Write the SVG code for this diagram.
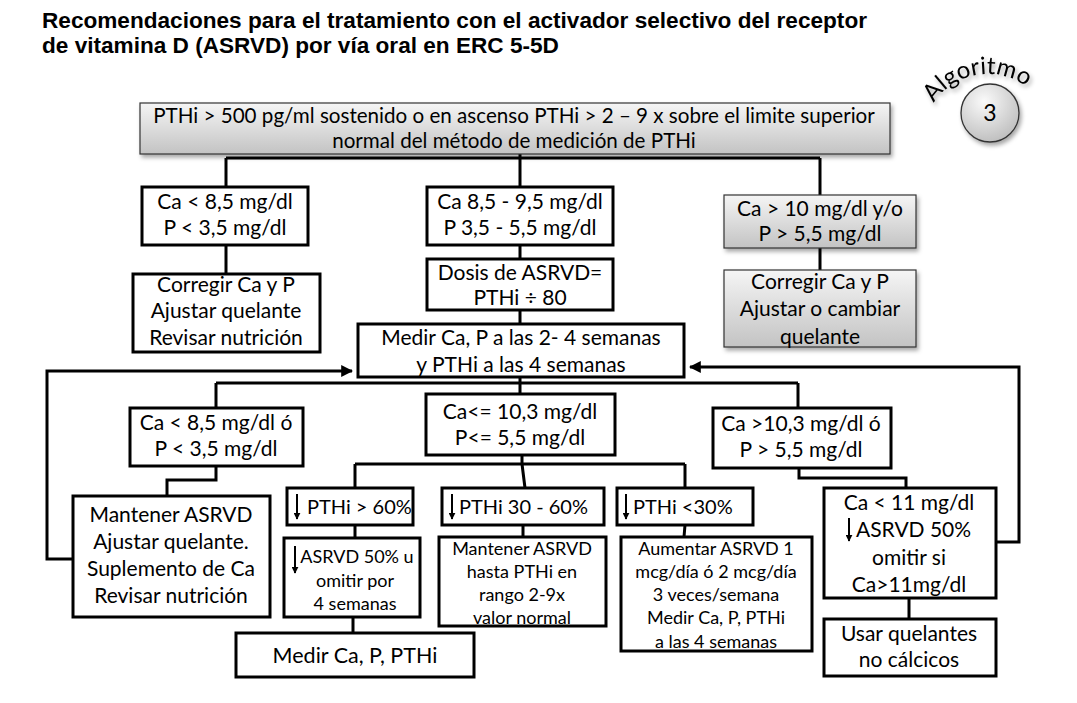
<svg xmlns="http://www.w3.org/2000/svg" width="1077" height="703" viewBox="0 0 1077 703">
<style>
.title{font-family:"Liberation Sans",Arial,sans-serif;font-weight:bold;font-size:22.6px;fill:#000}
.t{font-family:Lato,"Open Sans",sans-serif;font-size:21px;fill:#000;text-anchor:middle}
.ts{font-family:Lato,"Open Sans",sans-serif;font-size:18px;fill:#000;text-anchor:middle}
.tl{font-family:Lato,"Open Sans",sans-serif;font-size:20px;fill:#000}
.box{fill:#fff;stroke:#000;stroke-width:3}
.gbox{fill:url(#gg);stroke:#333;stroke-width:1.2;filter:url(#sh)}
.c{fill:none;stroke:#000;stroke-width:3}
.da{fill:none;stroke:#000;stroke-width:2}
</style>
<defs>
<linearGradient id="gg" x1="0" y1="0" x2="0" y2="1">
<stop offset="0" stop-color="#f5f5f5"/>
<stop offset="1" stop-color="#c3c3c3"/>
</linearGradient>
<radialGradient id="cg" cx="0.4" cy="0.3" r="0.8">
<stop offset="0" stop-color="#fafafa"/>
<stop offset="1" stop-color="#b8b8b8"/>
</radialGradient>
<filter id="sh" x="-10%" y="-10%" width="130%" height="140%">
<feDropShadow dx="2" dy="3" stdDeviation="2" flood-color="#000" flood-opacity="0.35"/>
</filter>
<marker id="ah" viewBox="0 0 10 10" refX="9" refY="5" markerWidth="4" markerHeight="4" orient="auto">
<path d="M0,0 L10,5 L0,10 z" fill="#000"/>
</marker>
<marker id="dh" viewBox="0 0 10 10" refX="9" refY="5" markerWidth="7" markerHeight="7" orient="auto" markerUnits="userSpaceOnUse">
<path d="M0,0 L10,5 L0,10 z" fill="#000"/>
</marker>
<path id="arc" d="M 934,103 A 64 64 0 0 1 1036,96"/>
</defs>

<text class="title" x="42" y="28">Recomendaciones para el tratamiento con el activador selectivo del receptor</text>
<text class="title" x="42" y="53">de vitamina D (ASRVD) por vía oral en ERC 5-5D</text>

<g id="badge">
<circle cx="990" cy="113" r="29" fill="url(#cg)" stroke="#333" stroke-width="1.3" filter="url(#sh)"/>
<text class="t" x="990" y="121" style="font-size:23px">3</text>
<text style="font-family:Lato,'Open Sans',sans-serif;font-size:24px;fill:#000" filter="url(#sh)"><textPath href="#arc">Algoritmo</textPath></text>
</g>

<g id="connectors">
<path class="c" d="M520,154 V187 M226,158 H820 M226,158 V187 M820,158 V195"/>
<path class="c" d="M226,245 V274 M520,245 V259 M520,310 V324 M820,248 V270"/>
<path class="c" d="M520,377 V394 M216,383 H798 M216,383 V408 M798,383 V408"/>
<path class="c" d="M216,466 V480 H167 V496"/>
<path class="c" d="M799,468 V478 H906 V488"/>
<path class="c" d="M522,455 V464 M355,464 H685 M355,464 V488 M522,464 L525,488 M685,464 V488"/>
<path class="c" d="M355,525 V538 M353,617 V633 M523,525 V537 M685,525 L684,537 M909,598 V619"/>
<path class="c" d="M73,559 H47 V371 H352" marker-end="url(#ah)"/>
<path class="c" d="M996,542 H1019 V367 H690" marker-end="url(#ah)"/>
</g>

<g id="n-top">
<rect class="gbox" x="140" y="103" width="750" height="51"/>
<text class="t" x="514" y="123" style="font-size:20.6px">PTHi &gt; 500 pg/ml sostenido o en ascenso PTHi &gt; 2 – 9 x sobre el limite superior</text>
<text class="t" x="514" y="148" style="font-size:20.6px">normal del método de medición de PTHi</text>
</g>

<g id="n-a1">
<rect class="box" x="142" y="187" width="166" height="58"/>
<text class="t" x="225" y="209">Ca &lt; 8,5 mg/dl</text>
<text class="t" x="225" y="235">P &lt; 3,5 mg/dl</text>
</g>
<g id="n-a2">
<rect class="box" x="427" y="187" width="186" height="58"/>
<text class="t" x="520" y="209">Ca 8,5 - 9,5 mg/dl</text>
<text class="t" x="520" y="235">P 3,5 - 5,5 mg/dl</text>
</g>
<g id="n-a3">
<rect class="gbox" x="724" y="195" width="192" height="53"/>
<text class="t" x="820" y="216">Ca &gt; 10 mg/dl y/o</text>
<text class="t" x="820" y="241">P &gt; 5,5 mg/dl</text>
</g>

<g id="n-b1">
<rect class="box" x="133" y="274" width="187" height="78"/>
<text class="t" x="226" y="292">Corregir Ca y P</text>
<text class="t" x="226" y="318">Ajustar quelante</text>
<text class="t" x="226" y="345">Revisar nutrición</text>
</g>
<g id="n-b2">
<rect class="box" x="427" y="259" width="186" height="51"/>
<text class="t" x="520" y="280">Dosis de ASRVD=</text>
<text class="t" x="520" y="305">PTHi ÷ 80</text>
</g>
<g id="n-b3">
<rect class="gbox" x="724" y="270" width="192" height="77"/>
<text class="t" x="820" y="289">Corregir Ca y P</text>
<text class="t" x="820" y="316">Ajustar o cambiar</text>
<text class="t" x="820" y="344">quelante</text>
</g>

<g id="n-medir">
<rect class="box" x="358" y="324" width="326" height="53"/>
<text class="t" x="521" y="345">Medir Ca, P a las 2- 4 semanas</text>
<text class="t" x="521" y="372">y PTHi a las 4 semanas</text>
</g>

<g id="n-c1">
<rect class="box" x="130" y="408" width="173" height="58"/>
<text class="t" x="216" y="430">Ca &lt; 8,5 mg/dl ó</text>
<text class="t" x="216" y="456">P &lt; 3,5 mg/dl</text>
</g>
<g id="n-c2">
<rect class="box" x="426" y="394" width="189" height="61"/>
<text class="t" x="520" y="419">Ca&lt;= 10,3 mg/dl</text>
<text class="t" x="520" y="445">P&lt;= 5,5 mg/dl</text>
</g>
<g id="n-c3">
<rect class="box" x="713" y="408" width="178" height="60"/>
<text class="t" x="801" y="431">Ca &gt;10,3 mg/dl ó</text>
<text class="t" x="801" y="457">P &gt; 5,5 mg/dl</text>
</g>

<g id="n-d1">
<rect class="box" x="73" y="496" width="197" height="121"/>
<text class="t" x="171" y="522">Mantener ASRVD</text>
<text class="t" x="171" y="549">Ajustar quelante.</text>
<text class="t" x="171" y="576">Suplemento de Ca</text>
<text class="t" x="171" y="603">Revisar nutrición</text>
</g>

<g id="n-e1">
<rect class="box" x="287" y="488" width="126" height="37"/>
<path class="da" d="M297,494 V519" marker-end="url(#dh)"/>
<text class="tl" x="307" y="514">PTHi &gt; 60%</text>
</g>
<g id="n-e2">
<rect class="box" x="442" y="488" width="162" height="37"/>
<path class="da" d="M452,494 V519" marker-end="url(#dh)"/>
<text class="tl" x="459" y="514">PTHi 30 - 60%</text>
</g>
<g id="n-e3">
<rect class="box" x="617" y="488" width="136" height="37"/>
<path class="da" d="M626,494 V519" marker-end="url(#dh)"/>
<text class="tl" x="633" y="514">PTHi &lt;30%</text>
</g>

<g id="n-f1">
<rect class="box" x="284" y="538" width="136" height="79"/>
<path class="da" d="M295,546 V573" marker-end="url(#dh)"/>
<text class="ts" x="357" y="563">ASRVD 50% u</text>
<text class="ts" x="355" y="587">omitir por</text>
<text class="ts" x="355" y="610">4 semanas</text>
</g>
<g id="n-f2">
<rect class="box" x="439" y="537" width="167" height="89"/>
<text class="ts" x="522" y="555">Mantener ASRVD</text>
<text class="ts" x="522" y="578">hasta PTHi en</text>
<text class="ts" x="522" y="601">rango 2-9x</text>
<text class="ts" x="522" y="624">valor normal</text>
</g>
<g id="n-f3">
<rect class="box" x="621" y="537" width="191" height="114"/>
<text class="ts" x="716" y="555">Aumentar ASRVD 1</text>
<text class="ts" x="716" y="578">mcg/día ó 2 mcg/día</text>
<text class="ts" x="716" y="601">3 veces/semana</text>
<text class="ts" x="716" y="624">Medir Ca, P, PTHi</text>
<text class="ts" x="716" y="648">a las 4 semanas</text>
</g>

<g id="n-g1">
<rect class="box" x="236" y="633" width="238" height="44"/>
<text class="t" x="355" y="663" style="font-size:21.5px">Medir Ca, P, PTHi</text>
</g>

<g id="n-h1">
<rect class="box" x="824" y="488" width="172" height="110"/>
<text class="t" x="909" y="510">Ca &lt; 11 mg/dl</text>
<path class="da" d="M849,518 V541" marker-end="url(#dh)"/>
<text class="tl" x="856" y="537" style="font-size:21px">ASRVD 50%</text>
<text class="t" x="909" y="565">omitir si</text>
<text class="t" x="909" y="592">Ca&gt;11mg/dl</text>
</g>
<g id="n-h2">
<rect class="box" x="824" y="619" width="172" height="57"/>
<text class="t" x="909" y="641">Usar quelantes</text>
<text class="t" x="909" y="667">no cálcicos</text>
</g>
</svg>
